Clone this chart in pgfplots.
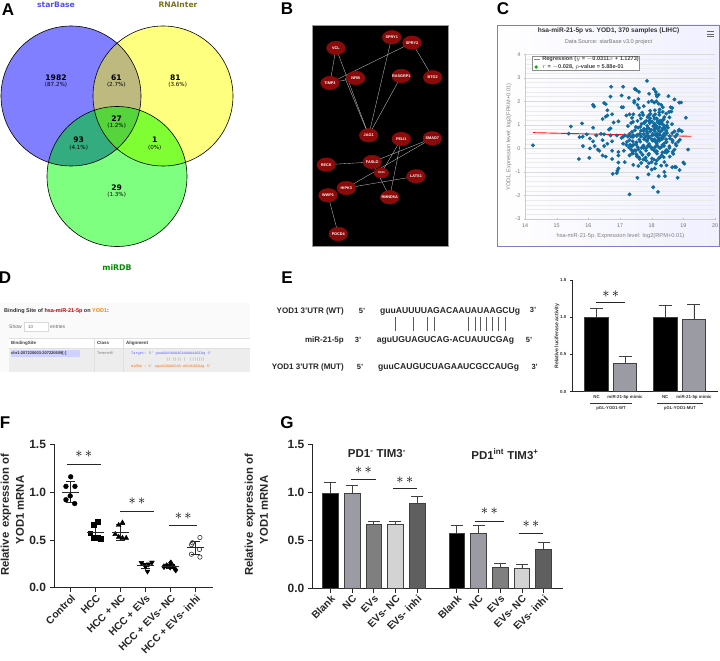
\documentclass[border=0pt]{standalone}
\usepackage{fontspec}
\setmainfont{Liberation Sans}
\newfontfamily\dejavu{DejaVu Sans}
\newfontfamily\mono{Liberation Mono}
\usepackage{pgfplots}
\pgfplotsset{compat=1.18}
\definecolor{vA}{HTML}{7F7FFF}
\definecolor{vB}{HTML}{FFFF7F}
\definecolor{vC}{HTML}{7FFF7F}
\definecolor{vAB}{HTML}{BDB97F}
\definecolor{vAC}{HTML}{33AC7F}
\definecolor{vBC}{HTML}{7FFF33}
\definecolor{vABC}{HTML}{55D43B}
\definecolor{netred}{HTML}{8B0A0A}
\definecolor{dotblue}{HTML}{0F6A9E}
\definecolor{gA}{HTML}{9B9BA3}
\definecolor{gB}{HTML}{7F7F7F}
\definecolor{gC}{HTML}{D3D3D3}
\definecolor{gD}{HTML}{5F5F5F}
\newcommand{\fs}[1]{\fontsize{#1}{#1}\selectfont}
% px node: style, x, y, text
\newcommand{\px}[4]{\node[inner sep=0pt,#1] at (axis cs:#2,#3) {#4};}
\newcommand{\vcirc}[2]{(axis cs:#1,#2) circle[radius=70]}
% significance bar: x1, x2, y, star x, star y
\newcommand{\sig}[5]{\addplot[black!85,line width=0.8pt,forget plot] coordinates {(#1,#3) (#2,#3)};
  \node[inner sep=0pt,font=\fs{14}] at (axis cs:#4,#5) {$\ast\,\ast$};}
\newcommand{\barp}[4]{\addplot[ybar,bar shift=0pt,fill=#1,draw=black!75,line width=0.7pt,
  error bars/.cd,y dir=plus,y explicit,error bar style={black!75,line width=0.7pt},
  error mark options={rotate=90,black!75,mark size=#4pt,line width=0.7pt}] coordinates {#2 #3};}
\newcommand{\meanbar}[2]{\addplot[mark=-,mark size=8.7pt,black!85,line width=0.6pt,error bars/.cd,y dir=both,y explicit,
  error bar style={black!85,line width=0.6pt},error mark options={rotate=90,black!85,mark size=4.7pt,line width=0.6pt}]
  coordinates {#1 +- #2};}
\begin{document}
\begin{tikzpicture}
\path[use as bounding box] (0,0) rectangle (720pt,661pt);
% page overlay in image pixels: Venn, network, text panels
\begin{axis}[at={(0pt,0pt)},anchor=south west,scale only axis,width=720pt,height=661pt,
  xmin=0,xmax=720,ymin=0,ymax=661,y dir=reverse,hide axis,clip=false]
% A
\fill[vA] \vcirc{71}{96};
\fill[vB] \vcirc{163}{96};
\fill[vC] \vcirc{117}{176.5};
\pgfplotsextra{
\begin{scope}\clip \vcirc{71}{96}; \fill[vAB] \vcirc{163}{96}; \end{scope}
\begin{scope}\clip \vcirc{71}{96}; \fill[vAC] \vcirc{117}{176.5}; \end{scope}
\begin{scope}\clip \vcirc{163}{96}; \fill[vBC] \vcirc{117}{176.5}; \end{scope}
\begin{scope}\clip \vcirc{71}{96}; \clip \vcirc{163}{96}; \fill[vABC] \vcirc{117}{176.5}; \end{scope}
}
\draw[black,line width=0.6pt] \vcirc{71}{96};
\draw[black,line width=0.6pt] \vcirc{163}{96};
\draw[black,line width=0.6pt] \vcirc{117}{176.5};
\px{font=\dejavu\bfseries\fs{7.6},blue!70!white}{56}{4.5}{starBase}
\px{font=\dejavu\bfseries\fs{7.6},olive!80!black}{178}{4.5}{RNAInter}
\px{font=\dejavu\bfseries\fs{7.8},green!55!black}{117}{268}{miRDB}
\px{font=\dejavu\bfseries\fs{7.6}}{56}{77.3}{1982}
\px{font=\dejavu\fs{5.6}}{56}{85}{(87.2\%)}
\px{font=\dejavu\bfseries\fs{7.6}}{116.3}{77.3}{61}
\px{font=\dejavu\fs{5.6}}{116.3}{85}{(2.7\%)}
\px{font=\dejavu\bfseries\fs{7.6}}{175.3}{77.3}{81}
\px{font=\dejavu\fs{5.6}}{177.7}{85}{(3.6\%)}
\px{font=\dejavu\bfseries\fs{7.6}}{116.7}{118.7}{27}
\px{font=\dejavu\fs{5.6}}{116.7}{125.7}{(1.2\%)}
\px{font=\dejavu\bfseries\fs{7.6}}{78.7}{140}{93}
\px{font=\dejavu\fs{5.6}}{78.7}{147.3}{(4.1\%)}
\px{font=\dejavu\bfseries\fs{7.6}}{154.7}{140}{1}
\px{font=\dejavu\fs{5.6}}{154.7}{147.3}{(0\%)}
\px{font=\dejavu\bfseries\fs{7.6}}{116.7}{187.3}{29}
\px{font=\dejavu\fs{5.6}}{116.7}{194.3}{(1.3\%)}
% panel letters
\px{font=\bfseries\fs{17}}{8}{10}{A}
\px{font=\bfseries\fs{17}}{287}{9}{B}
\px{font=\bfseries\fs{17}}{503}{9}{C}
\px{font=\bfseries\fs{17}}{5}{278}{D}
\px{font=\bfseries\fs{17}}{287}{278}{E}
\px{font=\bfseries\fs{17}}{5}{423}{F}
\px{font=\bfseries\fs{17}}{287}{423}{G}
% B
\fill[black,draw=black!40,line width=0.5pt] (axis cs:312,25) rectangle (axis cs:448,246);
\addplot[black!25,line width=0.35pt] coordinates {(336,48) (330,83)};
\addplot[black!25,line width=0.35pt] coordinates {(336,48) (368.7,135.3)};
\addplot[black!25,line width=0.35pt] coordinates {(330,83) (355.7,78)};
\addplot[black!25,line width=0.35pt] coordinates {(330,83) (412,42.7)};
\addplot[black!25,line width=0.35pt] coordinates {(345,78) (368.7,135.3)};
\addplot[black!25,line width=0.35pt] coordinates {(391.7,37.3) (368.7,135.3)};
\addplot[black!25,line width=0.35pt] coordinates {(401.3,76) (368.7,135.3)};
\addplot[black!25,line width=0.35pt] coordinates {(412,42.7) (432.7,77.3)};
\addplot[black!25,line width=0.35pt] coordinates {(401.3,139) (381.3,173)};
\addplot[black!25,line width=0.35pt] coordinates {(401.3,139) (389.7,197.3)};
\addplot[black!25,line width=0.35pt] coordinates {(432.3,138.3) (372.3,162)};
\addplot[black!25,line width=0.35pt] coordinates {(432.3,138.3) (346.3,188)};
\addplot[black!25,line width=0.35pt] coordinates {(326.3,164.7) (372.3,162)};
\addplot[black!25,line width=0.35pt] coordinates {(346.3,188) (416,176.3)};
\addplot[black!25,line width=0.35pt] coordinates {(372.3,162) (389.7,197.3)};
\addplot[black!25,line width=0.35pt] coordinates {(328,195.3) (338.3,234)};
\addplot[only marks,mark=*,mark size=6.8pt,mark options={xscale=1.38,fill=netred,draw=netred},
  point meta=explicit symbolic,nodes near coords,
  every node near coord/.append style={anchor=center,inner sep=0pt,yshift=0pt,white,font=\bfseries\fs{3.8}}]
  coordinates {(391.7,37.3)[SPRY1] (412,42.7)[SPRY2] (336,48)[VCL] (330,83)[TIMP3] (355.7,78)[NFIB]
  (401.3,76)[RASGRP1] (432.7,77.3)[BTG2] (368.7,135.3)[JAG1] (401.3,139)[PELI1] (432.3,138.3)[SMAD7]
  (326.3,164.7)[RECK] (372.3,162)[FASLG] (416,176.3)[LATS1] (346.3,188)[HIPK3]
  (389.7,197.3)[RMND5A] (328,195.3)[WWP1] (338.3,234)[PDCD4]};
\addplot[only marks,mark=*,mark size=5pt,mark options={xscale=1.45,fill=netred,draw=netred},
  point meta=explicit symbolic,nodes near coords,
  every node near coord/.append style={anchor=center,inner sep=0pt,white,font=\bfseries\fs{2.6}}]
  coordinates {(381.3,173)[YOD1]};
% C frame
\shade[left color=white,right color=blue!6!white] (axis cs:497.5,25) rectangle (axis cs:719,246.5);
\draw[draw=blue!35!gray!75,line width=0.9pt] (axis cs:497.5,25) rectangle (axis cs:719,246.5);
\px{font=\bfseries\fs{6.6},black!80}{608.5}{31}{hsa-miR-21-5p vs. YOD1, 370 samples (LIHC)}
\px{font=\fs{5.6},black!55}{608.5}{42}{Data Source: starBase v3.0 project}
\draw[black!60,line width=0.8pt] (axis cs:707,31.5) -- (axis cs:714,31.5) (axis cs:707,34) -- (axis cs:714,34) (axis cs:707,36.5) -- (axis cs:714,36.5);
\px{font=\fs{5.6},black!50,rotate=90}{509}{137}{YOD1, Expression level: log2(FPKM+0.01)}
\px{font=\fs{5.7},black!50}{620.5}{236}{hsa-miR-21-5p, Expression level: log2(RPM+0.01)}
% D
\fill[black!2] (axis cs:0,303) rectangle (axis cs:250,372);
\fill[white] (axis cs:9,338) rectangle (axis cs:250,348);
\fill[black!7] (axis cs:9,348) rectangle (axis cs:250,372);
\draw[black!12,line width=0.3pt] (axis cs:9,338) -- (axis cs:250,338) (axis cs:9,348) -- (axis cs:250,348)
  (axis cs:94,338) -- (axis cs:94,372) (axis cs:123,338) -- (axis cs:123,372);
\px{anchor=west,font=\bfseries\fs{5.5},black!80}{4}{311}{Binding Site of \textcolor{red!75!black}{hsa-miR-21-5p} on \textcolor{orange}{YOD1}:}
\px{anchor=west,font=\fs{5},black!60}{9}{327}{Show}
\draw[fill=white,draw=black!15,line width=0.3pt] (axis cs:24,322.5) rectangle (axis cs:48,331.5);
\px{anchor=west,font=\fs{4.5},black!60}{28}{327}{10}
\px{anchor=west,font=\fs{5},black!60}{50}{327}{entries}
\px{anchor=west,font=\bfseries\fs{4.5},black!75}{11}{343}{BindingSite}
\px{anchor=west,font=\bfseries\fs{4.5},black!75}{97}{343}{Class}
\px{anchor=west,font=\bfseries\fs{4.5},black!75}{126}{343}{Alignment}
\fill[blue!18!white] (axis cs:10.5,349.5) rectangle (axis cs:80,356.5);
\px{anchor=west,font=\bfseries\fs{4},black!80}{11}{353}{chr1:207220603-207220609[-]}
\px{anchor=west,font=\fs{3.9},black!55}{97}{353}{7mer-m8}
\px{anchor=west,font=\mono\fs{3.6},blue!65}{131}{353.5}{Target: 5' guuAUUUUAGACAAUAUAAGCUg 3'}
\px{anchor=west,font=\mono\fs{3.6},black!50}{166}{360}{|| |||| | \ |||||||}
\px{anchor=west,font=\mono\fs{3.6},orange!85!red}{131}{366.7}{miRNA : 3' aguUGUAGUCAG-ACUAUUCGAg 5'}
% E
\px{anchor=east,font=\bfseries\fs{8},black!85}{344}{311}{YOD1 3'UTR (WT)}
\px{font=\bfseries\fs{7.5},black!85}{362}{311}{5'}
\px{anchor=west,font=\bfseries\fs{8.6},black!85}{380}{311}{guuAUUUUAGACAAUAUAAGCUg}
\px{font=\bfseries\fs{7.5},black!85}{533}{310}{3'}
\px{anchor=east,font=\bfseries\fs{8},black!85}{344}{340}{miR-21-5p}
\px{font=\bfseries\fs{7.5},black!85}{358}{340}{3'}
\px{anchor=west,font=\bfseries\fs{8.6},black!85}{376.7}{340}{aguUGUAGUCAG-ACUAUUCGAg}
\px{font=\bfseries\fs{7.5},black!85}{529}{339.7}{5'}
\px{anchor=east,font=\bfseries\fs{8},black!85}{344}{367}{YOD1 3'UTR (MUT)}
\px{font=\bfseries\fs{7.5},black!85}{360}{367}{5'}
\px{anchor=west,font=\bfseries\fs{8.6},black!85}{378}{367}{guuCAUGUCUAGAAUCGCCAUGg}
\px{font=\bfseries\fs{7.5},black!85}{534.7}{366.7}{3'}
\draw[black!65,line width=0.7pt] (axis cs:395.7,317) -- (axis cs:395.7,331) (axis cs:413.3,317) -- (axis cs:413.3,331)
  (axis cs:427.3,317) -- (axis cs:427.3,331) (axis cs:434,317) -- (axis cs:434,331)
  (axis cs:468.3,317) -- (axis cs:468.3,331) (axis cs:475,317) -- (axis cs:475,331)
  (axis cs:480.7,317) -- (axis cs:480.7,331) (axis cs:486.7,317) -- (axis cs:486.7,331)
  (axis cs:492.3,317) -- (axis cs:492.3,331) (axis cs:498.3,317) -- (axis cs:498.3,331)
  (axis cs:505,317) -- (axis cs:505,331);
\px{font=\bfseries\fs{4.2},black!80}{611}{408}{pGL-YOD1-WT}
\px{font=\bfseries\fs{4.2},black!80}{680}{408}{pGL-YOD1-MUT}
\draw[black!80,line width=0.4pt] (axis cs:590,403) -- (axis cs:632,403) (axis cs:657,403) -- (axis cs:703,403);
\px{font=\bfseries\fs{5.2},rotate=90,black!80}{557}{336}{Relative luciferase activity}
% F, G y titles
\px{font=\bfseries\fs{11.3},rotate=90,black!85}{6}{515}{Relative\, expression of}
\px{font=\bfseries\fs{11.3},rotate=90,black!85}{20}{510}{YOD1 mRNA}
\px{font=\bfseries\fs{11.3},rotate=90,black!85}{250}{515}{Relative\, expression of}
\px{font=\bfseries\fs{11.3},rotate=90,black!85}{264}{510}{YOD1 mRNA}
\px{font=\bfseries\fs{11.5},black!85}{377}{454}{PD1\textsuperscript{-} TIM3\textsuperscript{-}}
\px{font=\bfseries\fs{11.5},black!85}{505}{454}{PD1\textsuperscript{int} TIM3\textsuperscript{+}}
\end{axis}
% C scatter
\begin{axis}[at={(525pt,442pt)},anchor=south west,scale only axis,width=190pt,height=164.7pt,
  xmin=14,xmax=20,ymin=-3,ymax=4,xtick={14,...,20},ytick={-3,...,4},
  minor y tick num=4,axis x line=bottom,axis y line=left,axis line style={-,black!20},
  tick style={black!25},ymajorgrids,yminorgrids,
  major grid style={black!14,line width=0.5pt},minor grid style={black!8,line width=0.4pt},
  minor y tick style={draw=none},
  ticklabel style={font=\fs{5.4},black!55},/pgf/number format/assume math mode=true,
  major tick length=2pt,clip=false]
\addplot[only marks,mark=*,mark size=1.75pt,mark options={fill=dotblue,draw=dotblue}] coordinates {
(14.25,0.13) (15.45,0.93) (15.38,0.63) (15.8,1.06) (15.72,0.48) (15.82,0.5) (15.7,-0.45) (15.83,0.1)
(15.95,0.6) (16.05,0.42) (16.05,0.0) (16.03,-0.4) (16.15,0.88) (16.15,0.3) (16.15,1.85) (16.18,1.78)
(16.2,0.1) (16.25,0.55) (16.3,-0.05) (16.35,-0.1) (16.4,0.62) (16.45,1.25) (16.5,1.93) (16.55,1.88)
(16.55,1.35) (16.6,1.4) (16.6,1.62) (16.5,0.6) (16.45,0.35) (16.5,0.1) (16.45,-0.3) (16.55,-0.35)
(16.6,0.2) (16.65,0.8) (16.7,0.85) (16.7,2.2) (16.72,2.62) (16.75,1.45) (16.8,1.1) (16.7,0.55)
(16.75,0.3) (16.75,-0.1) (16.75,-0.45) (16.77,-1.08) (16.9,-1.05) (16.92,-0.95) (16.95,-0.85)
(16.95,-0.6) (16.95,-0.3) (16.95,-0.15) (16.9,0.55) (16.95,1.15) (17.05,2.25) (17.1,2.62) (17.05,1.75)
(17.1,1.75) (17.2,1.4) (17.25,0.95) (17.15,0.55) (17.1,0.5) (17.05,0.45) (17.1,0.2) (17.2,0.15)
(17.12,-0.1) (17.15,-0.58) (17.3,0.62) (17.35,1.08) (17.38,0.7) (17.3,1.45) (17.38,1.3) (17.42,1.45)
(17.3,0.35) (17.32,0.15) (17.35,-0.05) (17.3,-0.3) (17.38,-0.22) (17.42,-0.7) (17.58,-0.75)
(17.28,2.15) (17.45,2.02) (17.47,2.53) (17.52,2.48) (17.6,2.4) (17.45,1.95) (17.55,1.85) (17.58,2.1)
(17.6,1.72) (17.75,1.8) (17.85,2.87) (17.92,2.32) (17.9,1.97) (18.0,2.02) (18.08,1.95) (18.07,2.52)
(18.13,2.4) (18.15,2.28) (18.22,2.28) (18.17,2.2) (18.15,2.0) (18.22,1.9) (18.35,1.75) (18.25,1.65)
(18.53,2.22) (18.72,2.08) (18.87,1.95) (18.93,1.95) (18.6,1.75) (18.55,1.55) (18.65,1.72) (18.1,1.62)
(17.95,1.6) (18.35,1.55) (18.3,1.85) (17.3,-1.95) (18.05,-1.65) (18.2,-1.85) (17.55,-1.25) (18.22,-1.18)
(18.42,-1.18) (18.82,-1.25) (17.9,-1.1) (18.4,-1.0) (18.88,-0.92) (18.0,-0.9) (18.1,-0.85) (18.65,-0.8)
(18.73,-0.78) (18.77,-0.8) (19.0,-0.6) (19.03,-0.65) (19.15,-0.05) (19.08,1.3) (18.95,0.73) (18.87,0.8)
(18.85,0.75) (18.75,0.5) (18.8,0.6)
(17.41,1.13) (17.5,0.91) (17.47,0.77) (17.55,0.58) (17.41,0.49) (17.52,0.26) (17.43,0.16) (17.47,-0.08)
(17.41,-0.21) (17.53,-0.33) (17.49,-0.1) (17.56,0.05) (17.51,0.17) (17.61,0.37) (17.53,0.52) (17.66,0.75)
(17.57,0.88) (17.68,1.04) (17.55,1.17) (17.62,1.41) (17.7,1.52) (17.66,1.27) (17.77,1.11) (17.64,0.92)
(17.76,0.83) (17.63,0.62) (17.77,0.45) (17.64,0.29) (17.74,0.12) (17.58,-0.05) (17.65,-0.16) (17.6,-0.38)
(17.74,-0.47) (17.67,-0.62) (17.83,-0.52) (17.71,-0.27) (17.82,-0.09) (17.72,0.07) (17.85,0.31) (17.76,0.39)
(17.87,0.63) (17.74,0.75) (17.86,0.96) (17.77,1.07) (17.87,1.33) (17.73,1.42) (17.9,1.39) (17.83,1.17)
(17.94,1.08) (17.84,0.82) (17.95,0.73) (17.82,0.52) (17.85,0.35) (17.92,0.19) (17.83,0.02) (17.91,-0.23)
(17.81,-0.39) (17.91,-0.63) (17.86,-0.78) (18.0,-0.58) (17.9,-0.27) (18.01,-0.02) (17.89,0.12)
(18.03,0.33) (17.9,0.45) (18.03,0.62) (17.91,0.85) (18.05,0.95) (17.92,1.18) (18.06,1.38) (17.96,1.47)
(18.09,1.27) (18.01,1.15) (18.11,0.87) (17.99,0.78) (18.12,0.57) (18.0,0.39) (18.12,0.28) (17.98,0.05)
(18.1,-0.12) (18.01,-0.43) (18.13,-0.65) (18.07,-0.47) (18.17,-0.22) (18.08,-0.08) (18.17,0.12)
(18.09,0.38) (18.18,0.49) (18.1,0.73) (18.19,0.82) (18.1,1.03) (18.19,1.17) (18.11,1.45) (18.24,1.53)
(18.16,1.28) (18.26,1.05) (18.16,0.95) (18.27,0.72) (18.15,0.55) (18.26,0.43) (18.16,0.19) (18.27,0.02)
(18.16,-0.12) (18.26,-0.38) (18.16,-0.52) (18.3,-0.73) (18.23,-0.42) (18.34,-0.17) (18.24,0.03) (18.34,0.15)
(18.23,0.41) (18.34,0.52) (18.24,0.73) (18.35,0.85) (18.23,1.08) (18.34,1.19) (18.24,1.43) (18.4,1.33)
(18.31,1.09) (18.39,0.98) (18.32,0.75) (18.4,0.63) (18.32,0.39) (18.4,0.22) (18.32,0.08) (18.41,-0.15)
(18.32,-0.29) (18.4,-0.58) (18.47,-0.72) (18.38,-0.37) (18.47,-0.18) (18.39,0.11) (18.47,0.27)
(18.38,0.48) (18.48,0.65) (18.4,0.85) (18.48,0.97) (18.37,1.23) (18.46,1.48) (18.56,1.32) (18.46,0.75)
(18.57,0.52) (18.46,0.38) (18.56,0.09) (18.46,-0.07) (18.57,-0.35) (18.51,-0.12) (18.62,1.57) (18.65,0.65)
(18.58,0.42) (18.66,0.27) (18.56,0.02) (18.66,-0.15) (18.72,0.72) (18.66,0.35) (18.76,0.19) (18.72,-0.05)
(18.68,-0.23) (18.84,0.29) (18.78,0.12) (18.89,0.37) (18.51,0.88) (18.64,1.03) (18.5,1.12)
(17.35,0.5) (17.4,0.3) (17.22,0.28) (17.28,0.05) (17.38,0.1) (17.4,-0.12) (17.42,0.55) (17.25,0.5)
(17.55,-0.35) (17.52,-0.25) (17.62,-0.45) (17.75,0.02) (17.68,0.02) (17.92,0.1) (18.02,0.55)
(18.08,0.82) (18.17,0.62) (18.25,0.9) (18.25,0.6) (18.18,0.32) (18.1,0.05) (18.32,0.42) (18.4,0.55)
(18.26,1.18) (18.18,1.12) (18.24,0.32) (17.84,0.72) (17.92,0.48) (17.75,0.62) (17.66,0.5) (17.95,1.28)
(18.08,1.05) (18.4,0.9) (18.38,1.25) (18.32,1.05)
};
\addplot[red!85!orange,line width=0.9pt] coordinates {(14.25,0.67) (19.25,0.515)};
% legend box over the grid
\draw[fill=white,draw=black!45,line width=0.4pt] (axis cs:14.22,3.93) rectangle (axis cs:17.6,3.31);
\addplot[cyan!60!blue!70,line width=1pt] coordinates {(14.28,3.80) (14.47,3.80)};
\addplot[only marks,mark=*,mark size=1.5pt,green!70!black] coordinates {(14.35,3.46)};
\node[anchor=west,inner sep=0pt,font=\bfseries\fs{5.6},black!75] at (axis cs:14.54,3.80) {Regression ($y$ = $-$0.0311$x$ + 1.1273)};
\node[anchor=west,inner sep=0pt,font=\bfseries\fs{5.6},black!75] at (axis cs:14.54,3.46) {$r$ = $-$0.028, $p$-value = 5.88e-01};
\end{axis}
% E bars
\begin{axis}[at={(572.3pt,269.3pt)},anchor=south west,scale only axis,width=145.7pt,height=111.7pt,
  xmin=-0.849,xmax=4.263,ymin=0,ymax=1.5,axis lines=left,axis line style={-,line width=0.7pt,black!85},
  ytick={0,0.5,1,1.5},yticklabels={0.0,0.5,1.0,1.5},xtick={0,1,2.41,3.42},
  xticklabels={NC,miR-21-5p mimic,NC,miR-21-5p mimic},
  ticklabel style={font=\bfseries\fs{4.4},black!80},/pgf/number format/assume math mode=true,
  xtick style={draw=none},ytick style={black!85,line width=0.6pt},tick align=outside,major tick length=2.5pt,
  x tick label style={yshift=2pt},bar width=23.5pt,clip=false]
\barp{black}{(0,1.0)}{+- (0,0.12)}{6.5}
\barp{gA}{(1,0.38)}{+- (0,0.10)}{6.5}
\barp{black}{(2.41,1.0)}{+- (0,0.16)}{6.5}
\barp{gA}{(3.42,0.97)}{+- (0,0.20)}{6.5}
\sig{-0.02}{1.01}{1.204}{0.5}{1.31}
\end{axis}
% F dots
\begin{axis}[at={(54pt,73.3pt)},anchor=south west,scale only axis,width=159.3pt,height=143.4pt,
  xmin=-0.668,xmax=5.704,ymin=0,ymax=1.5,axis lines=left,axis line style={-,line width=0.8pt,black!85},
  ytick={0,0.5,1,1.5},yticklabels={0.0,0.5,1.0,1.5},xtick={0,...,5},
  xticklabels={Control,HCC,HCC + NC,HCC + EVs,HCC + EVs- NC,HCC + EVs- inhi},
  y tick label style={font=\bfseries\fs{12},black!85},
  /pgf/number format/assume math mode=true,
  x tick label style={font=\bfseries\fs{10.3},black!85,rotate=45,anchor=north east,inner sep=1pt},
  tick style={black!85,line width=0.7pt},tick align=outside,major tick length=4.5pt,clip=false]
\addplot[only marks,mark=*,mark size=2.4pt,black] coordinates {(0,1.16) (-0.19,1.06) (0.17,1.06) (-0.02,0.96) (-0.19,0.92) (0.16,0.88)};
\addplot[only marks,mark=square*,mark size=2.3pt,black] coordinates {(1.08,0.69) (0.92,0.66) (0.78,0.57) (0.92,0.52) (1.08,0.52) (1.2,0.51)};
\addplot[only marks,mark=triangle*,mark size=2.8pt,black] coordinates {(2.07,0.68) (1.92,0.655) (1.78,0.56) (1.92,0.53) (2.07,0.52) (2.22,0.52)};
\addplot[only marks,mark=triangle*,mark size=2.8pt,black,mark options={rotate=180}] coordinates {(2.83,0.26) (3.25,0.265) (2.95,0.24) (3.12,0.245) (3.0,0.22) (3.07,0.17)};
\addplot[only marks,mark=diamond*,mark size=3pt,black] coordinates {(4.0,0.26) (3.84,0.23) (3.73,0.22) (4.11,0.22) (4.2,0.185) (3.98,0.215)};
\addplot[only marks,mark=o,mark size=2.2pt,black!80,line width=0.6pt] coordinates {(5.17,0.525) (4.83,0.45) (5.15,0.40) (4.83,0.35) (5.17,0.32) (4.87,0.47)};
\meanbar{(0,1.0)}{(0,0.11)}
\meanbar{(1,0.58)}{(0,0.085)}
\meanbar{(2,0.58)}{(0,0.08)}
\meanbar{(3,0.23)}{(0,0.03)}
\meanbar{(4,0.22)}{(0,0.02)}
\meanbar{(5,0.42)}{(0,0.07)}
\sig{-0.16}{1.2}{1.294}{0.52}{1.40}
\sig{1.97}{3.34}{0.80}{2.65}{0.907}
\sig{3.93}{5.06}{0.656}{4.5}{0.75}
\end{axis}
% G bars
\begin{axis}[at={(312.3pt,72.7pt)},anchor=south west,scale only axis,width=250.4pt,height=144.3pt,
  xmin=-0.838,xmax=10.715,ymin=0,ymax=1.5,axis lines=left,axis line style={-,line width=0.8pt,black!85},
  ytick={0,0.5,1,1.5},yticklabels={0.0,0.5,1.0,1.5},xtick={0,1,2,3,4,5.83,6.83,7.83,8.83,9.83},
  xticklabels={Blank,NC,EVs,EVs- NC,EVs- inhi,Blank,NC,EVs,EVs- NC,EVs- inhi},
  y tick label style={font=\bfseries\fs{12},black!85},
  /pgf/number format/assume math mode=true,
  x tick label style={font=\bfseries\fs{10.3},black!85,rotate=45,anchor=north east,inner sep=1pt},
  tick style={black!85,line width=0.7pt},tick align=outside,major tick length=4.5pt,
  bar width=15.6pt,clip=false]
\barp{black}{(0,0.99)}{+- (0,0.11)}{6}
\barp{gA}{(1,0.99)}{+- (0,0.08)}{6}
\barp{gB}{(2,0.66)}{+- (0,0.04)}{6}
\barp{gC}{(3,0.66)}{+- (0,0.04)}{6}
\barp{gD}{(4,0.88)}{+- (0,0.08)}{6}
\barp{black}{(5.83,0.57)}{+- (0,0.08)}{6}
\barp{gA}{(6.83,0.57)}{+- (0,0.08)}{6}
\barp{gB}{(7.83,0.22)}{+- (0,0.04)}{6}
\barp{gC}{(8.83,0.21)}{+- (0,0.04)}{6}
\barp{gD}{(9.83,0.40)}{+- (0,0.08)}{6}
\sig{0.946}{2.1}{1.128}{1.52}{1.225}
\sig{2.88}{3.99}{1.034}{3.43}{1.128}
\sig{6.67}{8.0}{0.70}{7.33}{0.80}
\sig{8.68}{9.81}{0.569}{9.25}{0.668}
\end{axis}
\end{tikzpicture}
\end{document}
